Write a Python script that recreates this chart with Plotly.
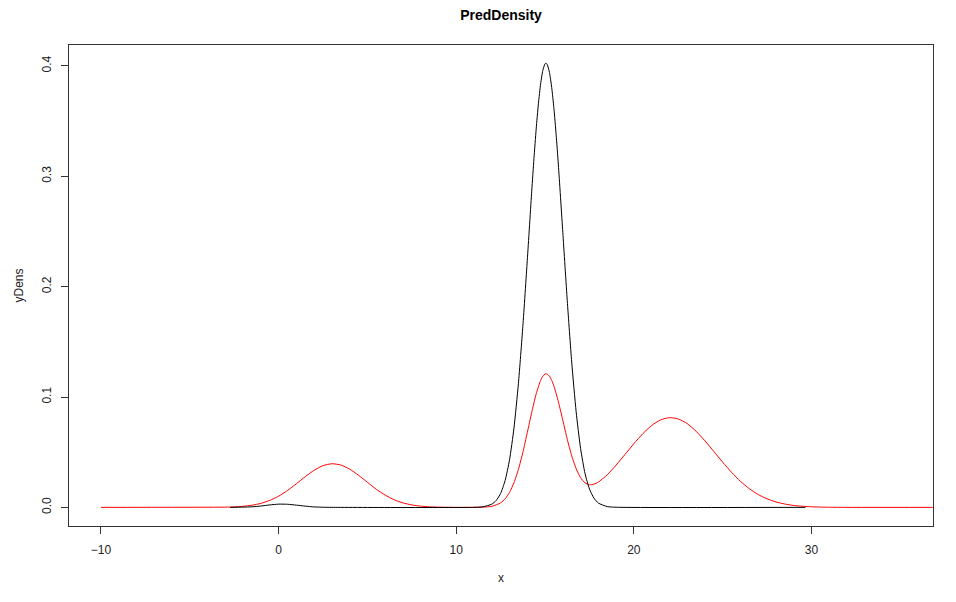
import plotly.graph_objects as go

# Red density curve
red_x = [-10, -3, -2.5, -2, -1.5, -1, -0.5, 0, 0.5, 1, 1.5, 2, 2.5, 3, 3.5, 4, 4.5, 5,
         5.5, 6, 6.5, 7, 7.5, 8, 8.5, 9, 9.5, 10, 11, 11.5, 12, 12.5, 12.75, 13, 13.25,
         13.5, 13.75, 14, 14.25, 14.5, 14.75, 14.875, 15, 15.05, 15.125, 15.25, 15.375,
         15.5, 15.75, 16, 16.25, 16.5, 16.75, 17, 17.25, 17.5, 17.75, 18, 18.5, 19, 19.5,
         20, 20.5, 21, 21.5, 22, 22.5, 23, 23.5, 24, 24.5, 25, 25.5, 26, 26.5, 27, 27.5,
         28, 28.5, 29, 29.5, 30, 31, 32, 40]
red_y = [0.0, 0.0002, 0.0004, 0.0010, 0.0019, 0.0036, 0.0063, 0.0101, 0.0153, 0.0214,
         0.0278, 0.0336, 0.0378, 0.0395, 0.0384, 0.0346, 0.0291, 0.0227, 0.0164, 0.0111,
         0.0069, 0.0040, 0.0022, 0.0011, 0.0005, 0.0002, 0.0001, 0.0, 0.0, 0.0002, 0.0009,
         0.0041, 0.0077, 0.0135, 0.0223, 0.0344, 0.0498, 0.0677, 0.0861, 0.1028, 0.1150,
         0.1188, 0.1207, 0.1210, 0.1207, 0.1188, 0.1151, 0.1099, 0.0957, 0.0789, 0.0617,
         0.0468, 0.0350, 0.0269, 0.0222, 0.0205, 0.0210, 0.0229, 0.0295, 0.0383, 0.0479,
         0.0577, 0.0667, 0.0742, 0.0792, 0.0813, 0.0801, 0.0759, 0.0690, 0.0603, 0.0507,
         0.0409, 0.0317, 0.0236, 0.0169, 0.0116, 0.0077, 0.0049, 0.0030, 0.0017, 0.0010,
         0.0005, 0.0001, 0.0, 0.0]

# Black density curve
black_x = [-2.73, -2, -1.5, -1, -0.5, 0, 0.5, 1, 1.5, 2, 2.5, 3, 11, 11.5, 12, 12.25,
           12.5, 12.75, 13, 13.25, 13.5, 13.75, 14, 14.25, 14.375, 14.5, 14.625, 14.75,
           14.875, 15, 15.05, 15.125, 15.25, 15.375, 15.5, 15.625, 15.75, 16, 16.25, 16.5,
           16.75, 17, 17.25, 17.5, 17.75, 18, 18.5, 19, 29.66]
black_y = [0.0, 0.0002, 0.0005, 0.0012, 0.0022, 0.0029, 0.0028, 0.0020, 0.0011, 0.0004,
           0.0001, 0.0, 0.0, 0.0005, 0.0029, 0.0062, 0.0127, 0.0242, 0.0431, 0.0719,
           0.1123, 0.1640, 0.2240, 0.2865, 0.3160, 0.3427, 0.3657, 0.3837, 0.3960, 0.4020,
           0.4025, 0.4013, 0.3940, 0.3805, 0.3614, 0.3377, 0.3102, 0.2491, 0.1872, 0.1317,
           0.0867, 0.0534, 0.0307, 0.0166, 0.0084, 0.0039, 0.0007, 0.0001, 0.0]

x_ticks = [-10, 0, 10, 20, 30]
y_ticks = [0.0, 0.1, 0.2, 0.3, 0.4]
y_tick_labels = ["0.0", "0.1", "0.2", "0.3", "0.4"]

FONT = "Arial, Liberation Sans, sans-serif"

fig = go.Figure()
fig.add_trace(go.Scatter(x=red_x, y=red_y, mode="lines",
                         line=dict(color="#FF0000", width=1, shape="spline", smoothing=0.6),
                         showlegend=False))
fig.add_trace(go.Scatter(x=black_x, y=black_y, mode="lines",
                         line=dict(color="#000000", width=1, shape="spline", smoothing=0.6),
                         showlegend=False))

axis_common = dict(showgrid=False, zeroline=False, showline=True, mirror=True,
                   linecolor="#333333", linewidth=1, ticks="outside", ticklen=7,
                   tickcolor="#333333", tickwidth=1,
                   tickfont=dict(family=FONT, size=12, color="#222222"))

fig.update_xaxes(range=[-11.8, 36.84], tickmode="array", tickvals=x_ticks,
                 ticklabelstandoff=6, **axis_common)
fig.update_yaxes(range=[-0.0169, 0.419], tickmode="array", tickvals=y_ticks,
                 ticktext=y_tick_labels, tickangle=-90, ticklabelstandoff=5,
                 **axis_common)

fig.update_layout(
    width=956, height=602,
    margin=dict(l=69, r=23, t=45, b=76),
    paper_bgcolor="white", plot_bgcolor="white",
    title=dict(text="<b>PredDensity</b>", x=0.5, xref="paper", xanchor="center",
               y=1 - 15 / 602, yref="container", yanchor="middle",
               font=dict(family=FONT, size=14, color="#000000")),
    annotations=[
        dict(text="x", xref="paper", yref="paper", x=0.5, y=-(578 - 526) / 481,
             xanchor="center", yanchor="middle", showarrow=False,
             font=dict(family=FONT, size=12, color="#222222")),
        dict(text="yDens", xref="paper", yref="paper", x=(18 - 69) / 864, y=0.5,
             xanchor="center", yanchor="middle", textangle=-90, showarrow=False,
             font=dict(family=FONT, size=12, color="#222222")),
    ],
)

fig.write_html("out.html")
